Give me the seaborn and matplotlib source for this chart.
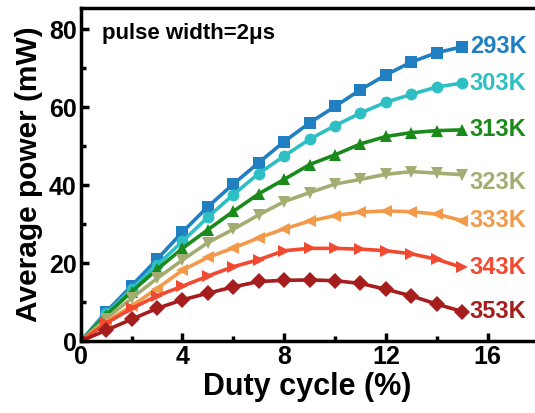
import pandas as pd
import matplotlib
matplotlib.use("Agg")
import matplotlib.pyplot as plt
import seaborn as sns
from matplotlib.ticker import MultipleLocator

# 占空比 (%)
duty = list(range(0, 16))

# 各温度下的平均功率 (mW)
p293 = [0, 7.5, 14.2, 21.0, 28.0, 34.5, 40.3, 45.8, 51.2, 56.0, 60.2, 64.5, 68.3, 71.6, 74.0, 75.5]
p303 = [0, 7.1, 13.4, 19.5, 25.6, 31.8, 37.6, 43.0, 47.5, 51.8, 55.3, 58.5, 61.3, 63.3, 65.2, 66.2]
p313 = [0, 6.7, 12.7, 18.4, 23.8, 28.6, 33.3, 37.8, 41.5, 45.3, 47.8, 50.6, 52.5, 53.5, 54.0, 54.2]
p323 = [0, 5.8, 11.0, 16.1, 20.8, 25.3, 28.7, 32.4, 35.8, 38.1, 40.3, 41.5, 42.8, 43.5, 43.1, 42.7]
p333 = [0, 5.0, 9.0, 13.5, 18.2, 21.5, 23.9, 26.5, 28.8, 30.8, 32.2, 33.1, 33.4, 33.2, 32.6, 30.9]
p343 = [0, 4.6, 8.4, 11.6, 14.1, 16.7, 19.1, 20.9, 23.2, 23.8, 23.8, 23.6, 23.2, 22.4, 21.0, 18.9]
p353 = [0, 2.8, 5.6, 8.4, 10.6, 12.3, 13.9, 15.3, 15.6, 15.7, 15.5, 14.8, 13.3, 11.6, 9.5, 7.6]

temps = ['293K', '303K', '313K', '323K', '333K', '343K', '353K']
series = [p293, p303, p313, p323, p333, p343, p353]

colors = ['#1f7fc0', '#2ebfc4', '#1a8a1a', '#a3ad72', '#f39a4a', '#f14a30', '#a51d1d']
markers = ['s', 'o', '^', 'v', '<', '>', 'D']

# 整理成长表
rows = []
for t, vals in zip(temps, series):
    for d, v in zip(duty, vals):
        rows.append({'Duty': d, 'Power': v, 'Temp': t})
df = pd.DataFrame(rows)

sns.set_theme(style="ticks")
plt.rcParams['font.family'] = ['Liberation Sans', 'DejaVu Sans']
plt.rcParams['font.weight'] = 'bold'
plt.rcParams['text.color'] = 'black'
plt.rcParams['axes.labelcolor'] = 'black'
plt.rcParams['xtick.color'] = 'black'
plt.rcParams['ytick.color'] = 'black'
plt.rcParams['axes.edgecolor'] = 'black'

fig = plt.figure(figsize=(5.35, 4.13), dpi=100)
ax = fig.add_axes([0.151, 0.174, 0.846, 0.807])

sns.lineplot(
    data=df, x='Duty', y='Power', hue='Temp', style='Temp',
    palette=dict(zip(temps, colors)),
    markers=dict(zip(temps, markers)),
    dashes=False, linewidth=2.6, markersize=8.5,
    markeredgewidth=0, legend=False, ax=ax
)

# 右侧温度标签
offsets = {'323K': -2.0}
for t, vals, c in zip(temps, series, colors):
    ax.text(15.3, vals[-1] + offsets.get(t, 0), t, color=c, fontsize=17,
            fontweight='bold', va='center', ha='left')

ax.text(0.85, 79, 'pulse width=2\u03bcs', fontsize=16, fontweight='bold',
        va='center', ha='left', family=['Liberation Sans', 'DejaVu Sans'])

ax.set_xlim(0, 17.8)
ax.set_ylim(0, 85.5)
ax.xaxis.set_major_locator(MultipleLocator(4))
ax.xaxis.set_minor_locator(MultipleLocator(2))
ax.yaxis.set_major_locator(MultipleLocator(20))
ax.yaxis.set_minor_locator(MultipleLocator(10))

ax.set_xlabel('Duty cycle (%)', fontsize=22, fontweight='bold', labelpad=2)
ax.set_ylabel('Average power (mW)', fontsize=21.5, fontweight='bold', labelpad=4)

ax.tick_params(which='major', direction='in', length=6, width=2.5,
               labelsize=18, pad=3)
ax.tick_params(which='minor', direction='in', length=3.5, width=2.5)
for lab in ax.get_xticklabels() + ax.get_yticklabels():
    lab.set_fontweight('bold')
for sp in ax.spines.values():
    sp.set_linewidth(2.5)
ax.spines['right'].set_visible(False)

fig.savefig('out.png', dpi=100)
